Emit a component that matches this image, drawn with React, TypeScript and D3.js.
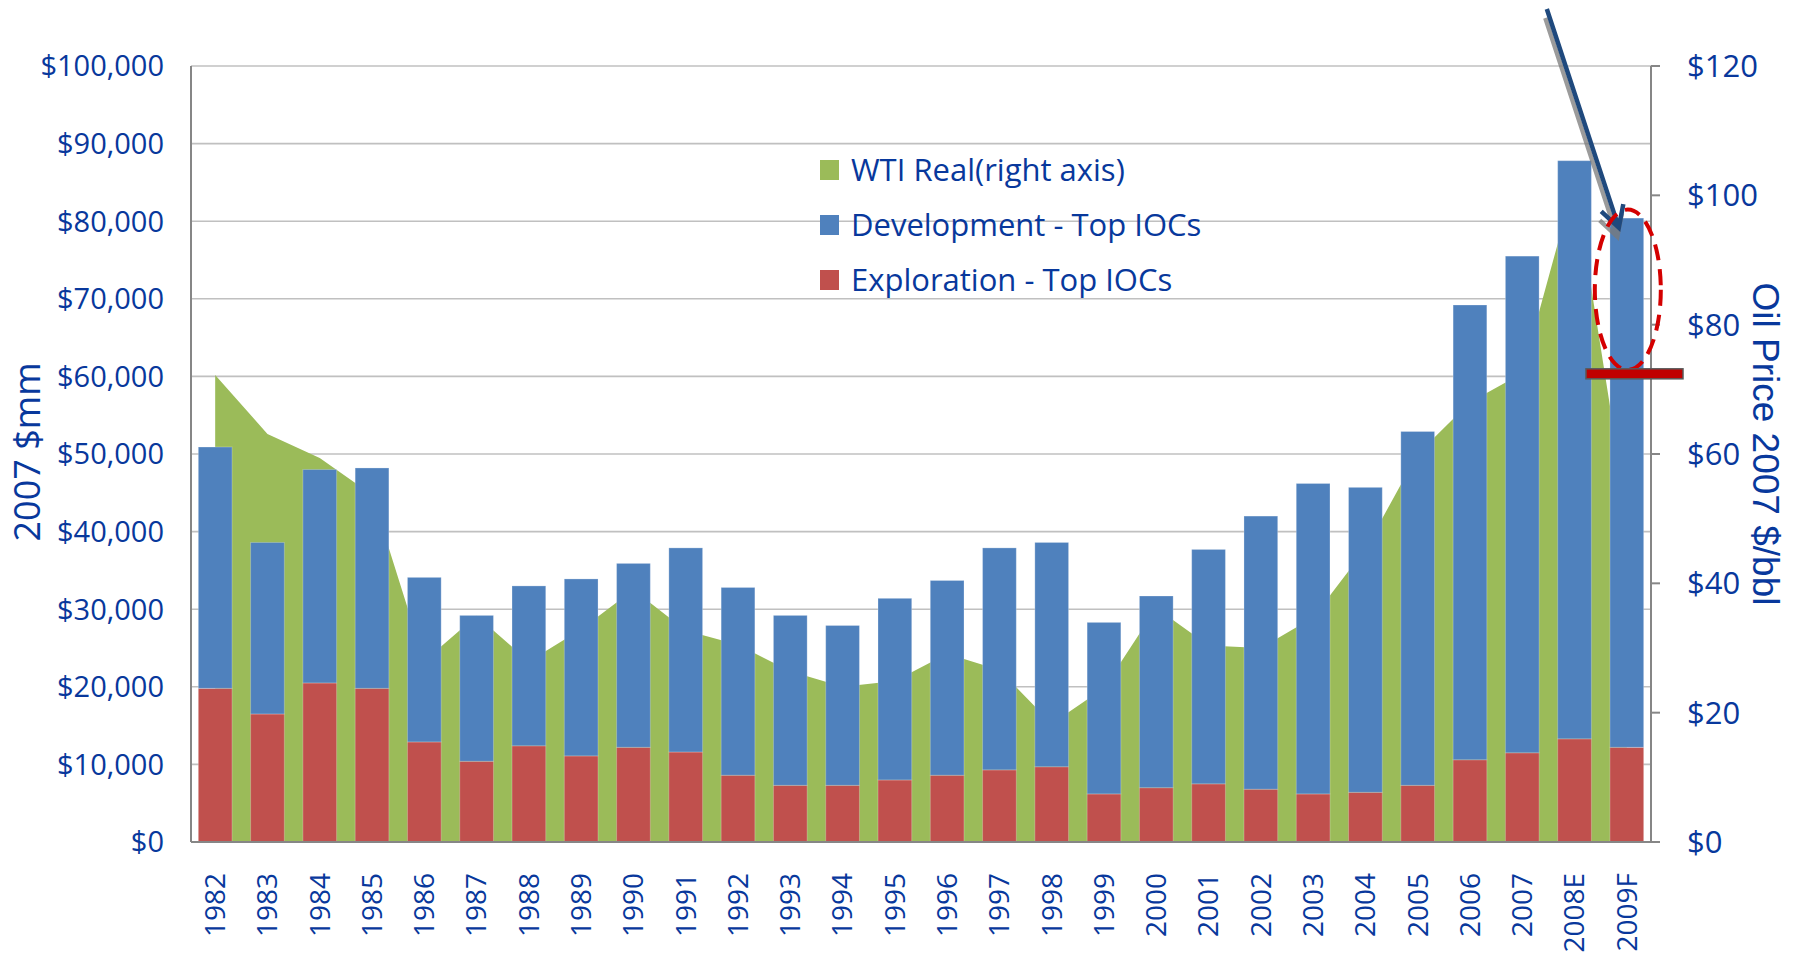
import React from "react";
import * as d3 from "d3";

// ---------- data ----------
const years = [
  "1982", "1983", "1984", "1985", "1986", "1987", "1988", "1989", "1990", "1991",
  "1992", "1993", "1994", "1995", "1996", "1997", "1998", "1999", "2000", "2001",
  "2002", "2003", "2004", "2005", "2006", "2007", "2008E", "2009F",
];
// 2007 $mm
const exploration = [
  19800, 16500, 20500, 19800, 12900, 10400, 12400, 11100, 12200, 11600,
  8600, 7300, 7300, 8000, 8600, 9300, 9700, 6200, 7000, 7500,
  6800, 6200, 6400, 7300, 10600, 11500, 13300, 12200,
];
const development = [
  31100, 22100, 27500, 28400, 21200, 18800, 20600, 22800, 23700, 26300,
  24200, 21900, 20600, 23400, 25100, 28600, 28900, 22100, 24700, 30200,
  35200, 40000, 39300, 45600, 58600, 64000, 74500, 68200,
];
// WTI real, 2007 $/bbl (right axis)
const wtiReal = [
  72.2, 63.1, 59.4, 53.7, 28.0, 35.0, 27.9, 32.9, 39.0, 32.7,
  30.5, 26.4, 24.0, 24.9, 29.1, 26.6, 18.3, 23.8, 36.2, 30.4,
  30.0, 34.7, 45.3, 60.0, 68.0, 72.5, 102.0, 51.0,
];
const leftTicks = [0, 10000, 20000, 30000, 40000, 50000, 60000, 70000, 80000, 90000, 100000];
const rightTicks = [0, 20, 40, 60, 80, 100, 120];
const legendItems = [
  { label: "WTI Real(right axis)", color: "#9BBB59" },
  { label: "Development - Top IOCs", color: "#4F81BD" },
  { label: "Exploration - Top IOCs", color: "#C0504D" },
];
// annotation values (right-axis units)
const markerPrice = 72.4; // red bar
const ellipseCenterPrice = 85.4;
const ellipseHalfPrice = 12.4;
const arrowTipPrice = 95;

// ---------- layout ----------
const W = 1797;
const H = 956;
const plotLeft = 191;
const plotRight = 1651;
const plotTop = 66;
const plotBottom = 842;
const textBlue = "#08389c";
const calibri = "'Open Sans', 'Noto Sans', sans-serif";

export default function App() {
  const x = d3
    .scaleBand<string>()
    .domain(years)
    .range([plotLeft, plotRight])
    .paddingInner(0.355)
    .paddingOuter(0.14);
  const bw = x.bandwidth();
  const cx = (y: string) => (x(y) as number) + bw / 2;
  const yL = d3.scaleLinear().domain([0, 100000]).range([plotBottom, plotTop]);
  const yR = d3.scaleLinear().domain([0, 120]).range([plotBottom, plotTop]);

  const rows = years.map((y, i) => ({ year: y, exploration: exploration[i], development: development[i] }));
  const stack = d3.stack<any>().keys(["exploration", "development"])(rows);
  const colors: Record<string, string> = { exploration: "#C0504D", development: "#4F81BD" };

  const area = d3
    .area<number>()
    .x((_, i) => cx(years[i]))
    .y0(yL(0))
    .y1((d) => yR(d))
    .curve(d3.curveLinear);

  const fmtL = (v: number) => "$" + d3.format(",")(v);

  // annotations
  const last = years[years.length - 1];
  const ecx = cx(last) + 1;
  const ecy = yR(ellipseCenterPrice);
  const ery = yR(ellipseCenterPrice - ellipseHalfPrice) - ecy;
  const erx = 33;
  const tipX = cx(last) - 8;
  const tipY = yR(arrowTipPrice);
  const startX = tipX - 72;
  const startY = 9;
  const ang = Math.atan2(startY - tipY, startX - tipX);
  const armLen = 24;
  const a1 = ang - (29 * Math.PI) / 180;
  const a2 = ang + (29 * Math.PI) / 180;
  const arrowPath =
    `M${startX},${startY}L${tipX},${tipY}` +
    `M${tipX + armLen * Math.cos(a1)},${tipY + armLen * Math.sin(a1)}L${tipX},${tipY}` +
    `L${tipX + armLen * Math.cos(a2)},${tipY + armLen * Math.sin(a2)}`;
  const markY = yR(markerPrice);
  const markX0 = (x(last) as number) - 24;

  return (
    <svg
      width={W}
      height={H}
      style={{ position: "absolute", left: 0, top: 0, background: "#fff" }}
      fontFamily={calibri}
    >
      {/* gridlines */}
      {leftTicks.map((t) => (
        <line key={"g" + t} x1={plotLeft} x2={plotRight} y1={yL(t)} y2={yL(t)} stroke="#c0c0c0" strokeWidth={1.6} />
      ))}

      {/* WTI area */}
      <path d={area(wtiReal) || ""} fill="#9BBB59" />

      {/* stacked bars */}
      {stack.map((s) =>
        s.map((d, i) => (
          <rect
            key={s.key + i}
            x={x(years[i])}
            width={bw}
            y={yL(d[1])}
            height={yL(d[0]) - yL(d[1])}
            fill={colors[s.key]}
            stroke="rgba(255,255,255,0.25)"
            strokeWidth={1}
          />
        ))
      )}

      {/* axes */}
      <line x1={plotLeft} x2={plotLeft} y1={plotTop} y2={plotBottom} stroke="#868686" strokeWidth={2} />
      <line x1={plotRight} x2={plotRight} y1={plotTop} y2={plotBottom} stroke="#868686" strokeWidth={2} />
      <line x1={plotLeft} x2={plotRight} y1={plotBottom} y2={plotBottom} stroke="#868686" strokeWidth={2} />
      {rightTicks.map((t) => (
        <line key={"rt" + t} x1={plotRight} x2={plotRight + 9} y1={yR(t)} y2={yR(t)} stroke="#868686" strokeWidth={2} />
      ))}

      {/* left tick labels */}
      {leftTicks.map((t) => (
        <text key={"l" + t} x={164} y={yL(t)} dy="0.36em" textAnchor="end" fontSize={29} fill={textBlue}>
          {fmtL(t)}
        </text>
      ))}
      {/* right tick labels */}
      {rightTicks.map((t) => (
        <text key={"r" + t} x={1687} y={yR(t)} dy="0.36em" textAnchor="start" fontSize={31} fill={textBlue}>
          {"$" + t}
        </text>
      ))}
      {/* x labels */}
      {years.map((y) => (
        <text
          key={"x" + y}
          transform={`translate(${cx(y)},873) rotate(-90)`}
          dy="0.35em"
          textAnchor="end"
          fontSize={28}
          fill={textBlue}
        >
          {y}
        </text>
      ))}

      {/* axis titles */}
      <text transform={`translate(40,452) rotate(-90)`} textAnchor="middle" fontSize={36} fill={textBlue}>
        2007 $mm
      </text>
      <text
        transform={`translate(1753,444) rotate(90)`}
        textAnchor="middle"
        fontSize={37}
        fill={textBlue}
        fontFamily="'Liberation Sans', Arial, sans-serif"
      >
        Oil Price 2007 $/bbl
      </text>

      {/* legend */}
      {legendItems.map((it, i) => (
        <g key={it.label} transform={`translate(820,${160 + i * 55})`}>
          <rect x={0} y={0} width={19} height={20} fill={it.color} />
          <text x={31} y={21} fontSize={31} fill={textBlue}>
            {it.label}
          </text>
        </g>
      ))}

      {/* annotations */}
      <g transform="translate(-1.5,9)" opacity={0.75}>
        <path d={arrowPath} fill="none" stroke="#7a7a7a" strokeWidth={4.5} />
      </g>
      <path d={arrowPath} fill="none" stroke="#1f497d" strokeWidth={4.5} />
      <ellipse
        cx={ecx}
        cy={ecy}
        rx={erx}
        ry={ery}
        fill="none"
        stroke="#d40000"
        strokeWidth={4}
        strokeDasharray="16 9"
      />
      <rect
        x={markX0}
        y={markY - 5}
        width={plotRight + 32 - markX0}
        height={10}
        fill="#c00000"
        stroke="#5a5a5a"
        strokeWidth={1.5}
      />
    </svg>
  );
}
